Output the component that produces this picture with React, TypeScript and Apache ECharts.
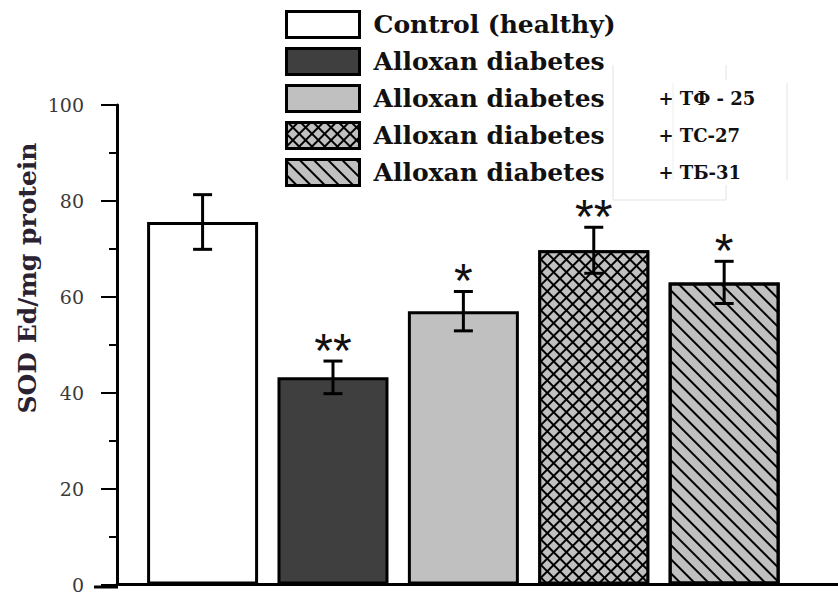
import React, { useEffect, useRef } from "react";
import * as echarts from "echarts";

const groupNames = [
  "Control (healthy)",
  "Alloxan diabetes",
  "Alloxan diabetes + ТФ - 25",
  "Alloxan diabetes + ТС-27",
  "Alloxan diabetes + ТБ-31",
];
const positions = [1, 2, 3, 4, 5];
const means = [75.6, 43.2, 57.0, 69.7, 63.0];
const errors = [5.7, 3.4, 4.1, 4.8, 4.4];
const stars = ["", "**", "*", "**", "*"];
const yTicks = { min: 0, max: 100, interval: 20 };
const yTitle = "SOD Ed/mg protein";

const fills = ["#ffffff", "#3f3f3f", "#c0c0c0", "#000000", "#c0c0c0"];
const decals: any[] = [
  null,
  null,
  null,
  {
    symbol: "rect",
    color: "#c0c0c0",
    dashArrayX: [7, 2],
    dashArrayY: [7, 2],
    symbolSize: 1,
    rotation: Math.PI / 4,
  },
  {
    symbol: "rect",
    color: "#000000",
    dashArrayX: [1, 0],
    dashArrayY: [1.5, 8],
    symbolSize: 1,
    rotation: Math.PI / 4,
  },
];

const SERIF = "'DejaVu Serif', 'Liberation Serif', serif";

export default function App() {
  const ref = useRef<HTMLDivElement>(null);
  useEffect(() => {
    if (!ref.current) return;
    const chart = echarts.init(ref.current, null, { renderer: "svg" });
    const barSeries = groupNames.map((name, i) => ({
      name,
      type: "bar",
      barWidth: 111,
      barGap: "-100%",
      z: 2,
      itemStyle: {
        color: fills[i],
        borderColor: "#000",
        borderWidth: 3,
        ...(decals[i] ? { decal: decals[i] } : {}),
      },
      data: [[positions[i], means[i]]],
    }));
    const errData = positions.map((p, i) => [p, means[i] - errors[i], means[i] + errors[i]]);
    const option: any = {
      animation: false,
      grid: { left: 117, right: 0, top: 105, bottom: 7 },
      legend: {
        orient: "vertical",
        left: 285,
        top: 10,
        padding: 0,
        itemWidth: 73,
        itemHeight: 26,
        itemGap: 8,
        selectedMode: false,
        icon: "rect",
        itemStyle: { borderColor: "#000", borderWidth: 3 },
        data: groupNames,
        formatter: (name: string) => {
          const parts = name.split(" + ");
          if (parts.length > 1) return `{a|${parts[0]}}{b|+ ${parts[1]}}`;
          return `{a|${name}}`;
        },
        textStyle: {
          fontFamily: SERIF,
          fontWeight: "bold",
          fontSize: 25,
          lineHeight: 26,
          color: "#111",
          rich: {
            a: {
              fontFamily: SERIF,
              fontWeight: "bold",
              fontSize: 25,
              lineHeight: 26,
              color: "#111",
              width: 285,
              padding: [0, 0, 0, 9],
            },
            b: {
              fontFamily: SERIF,
              fontWeight: "bold",
              fontSize: 18,
              lineHeight: 26,
              color: "#111",
            },
          },
        },
      },
      xAxis: {
        type: "value",
        min: 0.3436,
        max: 5.873,
        axisLine: { show: true, lineStyle: { color: "#000", width: 3 } },
        axisTick: { show: false },
        axisLabel: { show: false },
        splitLine: { show: false },
      },
      yAxis: {
        type: "value",
        min: yTicks.min,
        max: yTicks.max,
        interval: yTicks.interval,
        axisLine: { show: true, lineStyle: { color: "#000", width: 3 } },
        axisTick: { show: true, inside: false, length: 16, lineStyle: { color: "#000", width: 2 } },
        minorTick: { show: true, splitNumber: 2, length: 8, lineStyle: { color: "#000", width: 2 } },
        axisLabel: { margin: 33, fontFamily: SERIF, fontSize: 19, color: "#3a3a3a" },
        splitLine: { show: false },
      },
      graphic: [
        { type: "line", shape: { x1: 94, y1: 587, x2: 118, y2: 587 }, style: { stroke: "#000", lineWidth: 3 } },
        {
          type: "text",
          x: 27,
          y: 278,
          rotation: Math.PI / 2,
          style: {
            text: yTitle,
            fontFamily: SERIF,
            fontWeight: "bold",
            fontSize: 25,
            fill: "#2a2230",
            textAlign: "center",
            textVerticalAlign: "middle",
          },
        },
        { type: "line", shape: { x1: 613, y1: 65, x2: 613, y2: 200 }, style: { stroke: "#e2e2e2", lineWidth: 1 } },
        { type: "line", shape: { x1: 613, y1: 200, x2: 726, y2: 200 }, style: { stroke: "#e2e2e2", lineWidth: 1 } },
        { type: "line", shape: { x1: 726, y1: 65, x2: 726, y2: 80 }, style: { stroke: "#e2e2e2", lineWidth: 1 } },
        { type: "line", shape: { x1: 726, y1: 185, x2: 726, y2: 200 }, style: { stroke: "#e2e2e2", lineWidth: 1 } },
        { type: "line", shape: { x1: 673, y1: 83, x2: 673, y2: 180 }, style: { stroke: "#eeeeee", lineWidth: 1 } },
        { type: "line", shape: { x1: 787, y1: 83, x2: 787, y2: 180 }, style: { stroke: "#e2e2e2", lineWidth: 1 } },
      ],
      series: [
        ...barSeries,
        {
          type: "custom",
          name: "errors",
          z: 5,
          data: errData,
          renderItem: (params: any, api: any) => {
            const x = api.value(0);
            const top = api.coord([x, api.value(2)]);
            const bot = api.coord([x, api.value(1)]);
            const half = 9.5;
            const st = { stroke: "#000", lineWidth: 3 };
            const children: any[] = [
              { type: "line", shape: { x1: top[0], y1: top[1], x2: bot[0], y2: bot[1] }, style: st },
              { type: "line", shape: { x1: top[0] - half, y1: top[1], x2: top[0] + half, y2: top[1] }, style: st },
              { type: "line", shape: { x1: bot[0] - half, y1: bot[1], x2: bot[0] + half, y2: bot[1] }, style: st },
            ];
            const s = stars[params.dataIndex];
            if (s) {
              children.push({
                type: "text",
                x: top[0],
                y: top[1] - 11,
                style: {
                  text: s,
                  fontFamily: "'Liberation Sans', sans-serif",
                  fontSize: 48,
                  lineHeight: 24,
                  fill: "#111",
                  textAlign: "center",
                  textVerticalAlign: "middle",
                },
              });
            }
            return { type: "group", children };
          },
        },
      ],
    };
    chart.setOption(option);
    return () => chart.dispose();
  }, []);
  return (
    <div
      ref={ref}
      style={{ position: "absolute", left: 0, top: 0, width: 838, height: 594, background: "#fff" }}
    />
  );
}
